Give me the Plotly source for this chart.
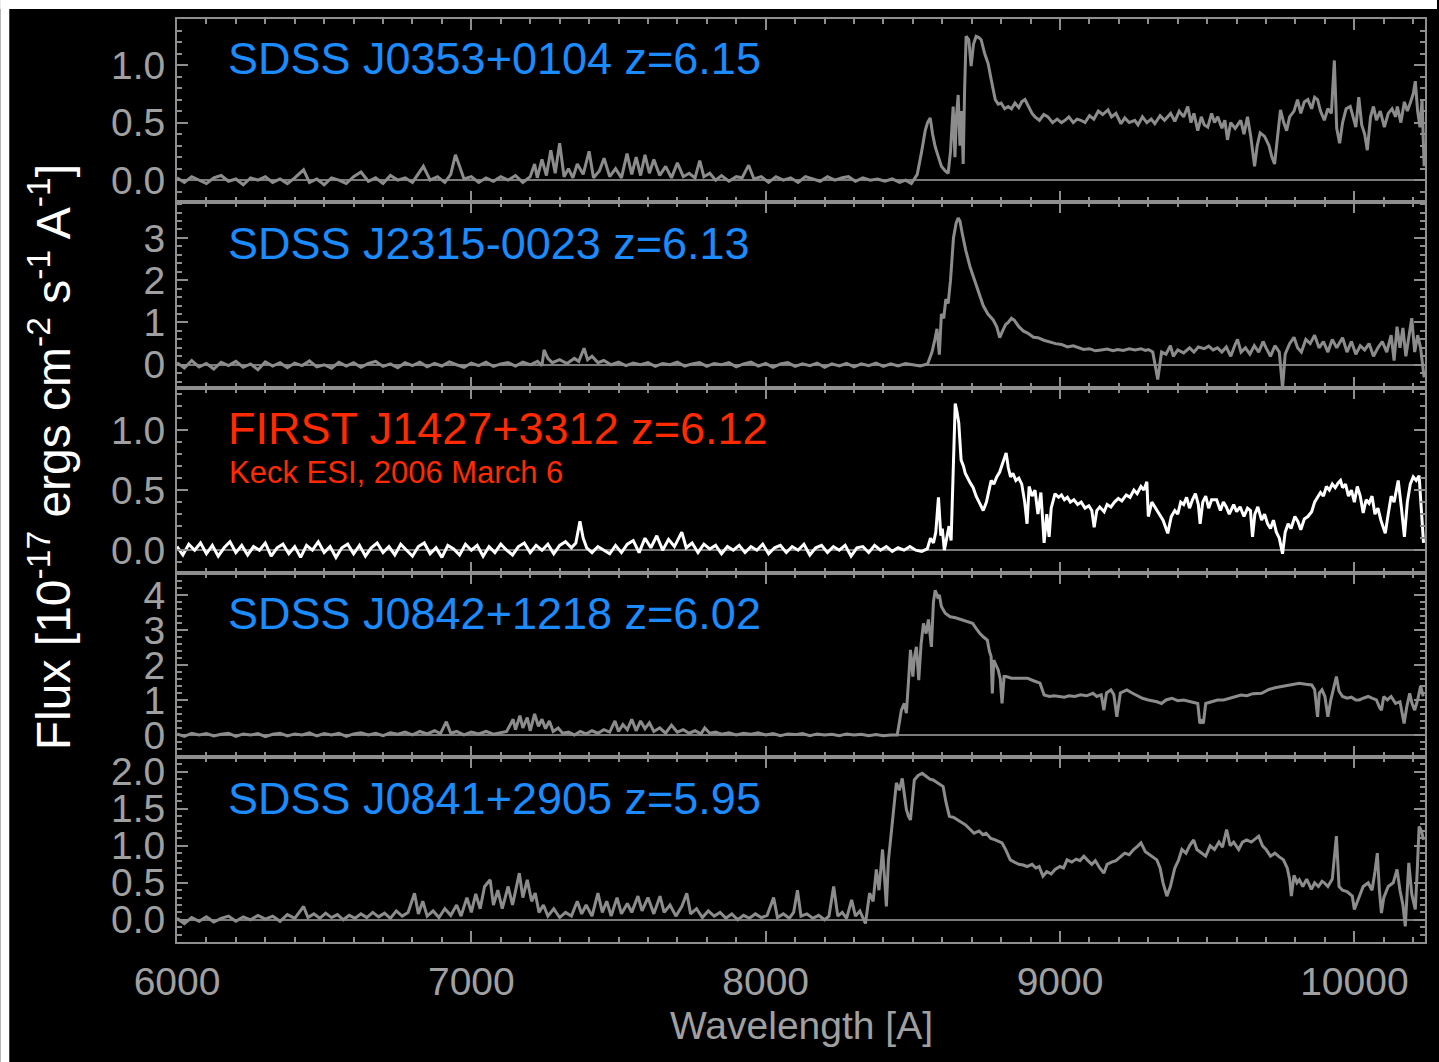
import plotly.graph_objects as go

# ---------------- data (wavelength [A], flux [1e-17 erg/cm2/s/A]) ----------------
names = ["SDSS J0353+0104 z=6.15", "SDSS J2315-0023 z=6.13", "FIRST J1427+3312 z=6.12",
         "SDSS J0842+1218 z=6.02", "SDSS J0841+2905 z=5.95"]
subtitle = "Keck ESI, 2006 March 6"
x_ticks = [6000, 7000, 8000, 9000, 10000]
y_ticks = [[0.0, 0.5, 1.0], [0, 1, 2, 3], [0.0, 0.5, 1.0], [0, 1, 2, 3, 4], [0.0, 0.5, 1.0, 1.5, 2.0]]

j0353 = [(6000,0.02),(6025,-0.02),(6050,0.03),(6075,0.00),(6100,-0.03),(6125,0.02),(6150,0.04),(6175,-0.01),
(6200,0.01),(6225,-0.04),(6250,0.02),(6275,0.00),(6300,0.03),(6325,-0.02),(6350,0.01),(6375,-0.03),(6400,0.02),
(6430,0.09),(6450,-0.02),(6475,0.01),(6500,-0.04),(6525,0.02),(6550,0.00),(6575,-0.03),(6600,0.03),(6625,0.07),
(6650,-0.01),(6675,0.02),(6700,-0.03),(6725,0.04),(6750,0.00),(6775,0.02),(6800,-0.02),(6837,0.12),(6860,0.00),
(6885,0.03),(6910,-0.02),(6930,0.05),(6946,0.22),(6960,0.12),(6975,0.01),(7000,0.03),(7025,-0.02),(7050,0.02),
(7075,-0.01),(7100,0.03),(7125,0.00),(7150,0.04),(7175,-0.02),(7200,0.03),(7215,0.14),(7224,0.02),(7240,0.18),
(7255,0.04),(7270,0.26),(7285,0.06),(7300,0.32),(7315,0.03),(7330,0.10),(7345,0.02),(7360,0.14),(7380,0.05),
(7400,0.25),(7415,0.02),(7435,0.08),(7451,0.19),(7470,0.03),(7490,0.10),(7510,0.02),(7529,0.23),(7545,0.05),
(7560,0.20),(7575,0.04),(7590,0.22),(7605,0.06),(7620,0.18),(7640,0.04),(7660,0.12),(7680,0.02),(7700,0.15),
(7720,0.03),(7740,0.06),(7760,0.02),(7776,0.17),(7790,0.03),(7810,0.06),(7830,0.00),(7850,0.04),(7875,-0.01),
(7900,0.03),(7920,0.02),(7942,0.13),(7960,0.01),(7985,0.03),(8010,-0.02),(8035,0.03),(8060,0.00),(8085,0.02),
(8110,-0.02),(8135,0.03),(8160,0.01),(8185,-0.01),(8210,0.03),(8235,0.00),(8260,0.02),(8281,0.03),(8305,-0.01),
(8330,0.02),(8355,0.00),(8380,0.01),(8405,-0.01),(8430,0.01),(8455,-0.02),(8475,0.00),(8495,-0.03),(8515,0.05),
(8530,0.25),(8542,0.43),(8550,0.50),(8559,0.54),(8567,0.40),(8576,0.29),(8587,0.20),(8597,0.12),(8610,0.08),
(8620,0.06),(8628,0.25),(8637,0.64),(8643,0.20),(8648,0.55),(8654,0.74),(8660,0.30),(8666,0.60),(8671,0.14),
(8676,0.80),(8681,1.25),(8690,1.22),(8698,0.99),(8706,1.18),(8715,1.25),(8724,1.24),(8732,1.22),(8744,1.10),
(8756,1.01),(8768,0.85),(8780,0.70),(8790,0.66),(8800,0.67),(8812,0.62),(8824,0.64),(8835,0.62),(8847,0.67),
(8860,0.63),(8870,0.68),(8881,0.70),(8895,0.63),(8905,0.58),(8915,0.55),(8930,0.52),(8945,0.57),(8959,0.55),
(8975,0.50),(8990,0.53),(9005,0.50),(9017,0.52),(9030,0.55),(9045,0.50),(9058,0.53),(9071,0.52),(9085,0.50),
(9100,0.56),(9115,0.53),(9130,0.60),(9145,0.57),(9163,0.61),(9175,0.55),(9190,0.58),(9207,0.49),(9220,0.54),
(9235,0.50),(9254,0.52),(9265,0.48),(9280,0.55),(9295,0.50),(9310,0.53),(9322,0.49),(9340,0.56),(9355,0.52),
(9376,0.58),(9390,0.51),(9405,0.60),(9420,0.55),(9434,0.64),(9445,0.50),(9455,0.58),(9468,0.43),(9480,0.55),
(9490,0.48),(9502,0.46),(9515,0.58),(9525,0.50),(9536,0.55),(9550,0.45),(9560,0.52),(9569,0.35),(9580,0.50),
(9595,0.45),(9614,0.52),(9625,0.40),(9637,0.55),(9648,0.38),(9661,0.12),(9670,0.30),(9680,0.41),(9695,0.38),
(9710,0.30),(9720,0.20),(9729,0.14),(9738,0.35),(9749,0.61),(9760,0.50),(9770,0.43),(9780,0.55),(9795,0.60),
(9807,0.70),(9818,0.58),(9830,0.68),(9842,0.70),(9855,0.62),(9865,0.72),(9875,0.70),(9885,0.60),(9898,0.52),
(9910,0.62),(9922,0.58),(9932,1.04),(9940,0.45),(9950,0.32),(9960,0.50),(9972,0.62),(9986,0.64),(9995,0.55),
(10005,0.46),(10015,0.72),(10025,0.48),(10035,0.40),(10044,0.26),(10055,0.55),(10065,0.64),(10075,0.52),
(10088,0.60),(10102,0.46),(10115,0.58),(10128,0.62),(10140,0.55),(10146,0.64),(10158,0.50),(10170,0.68),
(10180,0.60),(10190,0.67),(10200,0.75),(10207,0.86),(10215,0.60),(10223,0.46),(10230,0.70),(10237,0.12)]

j2315 = [(6000,0.05),(6025,-0.08),(6050,0.10),(6075,-0.05),(6100,0.03),(6125,-0.10),(6150,0.06),(6175,-0.02),
(6200,0.08),(6225,-0.06),(6250,0.02),(6275,-0.12),(6300,0.07),(6325,-0.03),(6350,0.05),(6375,-0.07),(6400,0.04),
(6425,-0.02),(6450,0.09),(6475,-0.05),(6500,0.00),(6525,-0.08),(6550,0.06),(6575,-0.03),(6600,0.05),(6625,-0.06),
(6650,0.03),(6675,0.08),(6700,-0.04),(6725,0.02),(6750,-0.07),(6775,0.05),(6800,-0.02),(6825,0.06),(6850,-0.05),
(6875,0.03),(6900,-0.03),(6925,0.07),(6950,0.00),(6975,-0.06),(7000,0.04),(7025,-0.02),(7050,0.06),(7075,-0.04),
(7100,0.02),(7125,0.05),(7150,-0.03),(7175,0.06),(7200,0.00),(7225,0.08),(7240,-0.02),(7247,0.35),(7260,0.15),
(7275,0.05),(7300,0.12),(7325,0.03),(7350,0.15),(7365,0.08),(7383,0.39),(7395,0.12),(7410,0.20),(7430,0.05),
(7450,0.10),(7475,0.00),(7500,0.06),(7525,-0.02),(7550,0.04),(7575,0.00),(7600,0.05),(7625,-0.04),(7650,0.03),
(7675,0.00),(7700,0.06),(7725,-0.03),(7750,0.02),(7775,0.05),(7800,-0.04),(7825,0.03),(7850,0.00),(7875,0.05),
(7900,-0.05),(7925,0.02),(7950,0.06),(7975,-0.03),(8000,0.03),(8025,-0.06),(8050,0.02),(8075,0.05),(8100,-0.04),
(8125,0.02),(8150,-0.02),(8175,0.04),(8200,-0.06),(8225,0.02),(8250,-0.03),(8275,0.03),(8300,-0.05),(8325,0.02),
(8350,-0.02),(8375,0.04),(8400,-0.04),(8425,0.02),(8450,-0.03),(8475,0.03),(8500,0.00),(8525,-0.03),(8550,0.02),
(8565,0.30),(8575,0.60),(8582,0.85),(8590,0.24),(8597,1.20),(8605,1.10),(8612,1.55),(8620,1.45),(8628,2.00),
(8638,3.00),(8647,3.35),(8654,3.47),(8660,3.40),(8668,3.10),(8680,2.70),(8695,2.30),(8710,2.00),(8725,1.65),
(8739,1.40),(8755,1.20),(8773,1.06),(8785,0.90),(8795,0.64),(8805,0.80),(8815,0.95),(8824,1.00),(8835,1.10),
(8845,1.05),(8860,0.90),(8875,0.80),(8890,0.75),(8910,0.65),(8925,0.64),(8945,0.58),(8965,0.54),(8985,0.50),
(9005,0.48),(9025,0.42),(9045,0.45),(9061,0.40),(9080,0.36),(9100,0.38),(9120,0.33),(9140,0.35),(9160,0.37),
(9180,0.33),(9196,0.36),(9215,0.34),(9235,0.38),(9255,0.35),(9275,0.38),(9290,0.34),(9300,0.36),(9315,0.30),
(9332,-0.35),(9345,0.30),(9360,0.25),(9375,0.45),(9385,0.20),(9400,0.35),(9420,0.28),(9440,0.40),(9455,0.30),
(9470,0.42),(9490,0.38),(9505,0.44),(9520,0.35),(9535,0.40),(9550,0.30),(9565,0.42),(9580,0.20),(9595,0.48),
(9603,0.60),(9615,0.30),(9630,0.40),(9645,0.25),(9660,0.45),(9675,0.30),(9690,0.55),(9700,0.40),(9715,0.20),
(9730,0.45),(9745,0.30),(9756,-0.55),(9765,0.25),(9780,0.50),(9795,0.65),(9807,0.40),(9820,0.30),(9835,0.60),
(9850,0.50),(9865,0.70),(9880,0.40),(9895,0.55),(9910,0.30),(9925,0.60),(9940,0.40),(9960,0.64),(9975,0.30),
(9990,0.55),(10005,0.25),(10020,0.45),(10035,0.35),(10050,0.50),(10065,0.20),(10080,0.40),(10095,0.55),
(10110,0.30),(10125,0.70),(10135,0.10),(10145,0.90),(10155,0.40),(10165,0.87),(10175,0.20),(10185,0.60),
(10195,1.10),(10205,0.30),(10215,0.70),(10225,0.40),(10237,-0.30)]

j1427 = [(6000,0.03),(6020,-0.04),(6040,0.05),(6060,0.00),(6080,0.06),(6100,-0.03),(6120,0.04),(6140,-0.05),
(6160,0.02),(6180,0.07),(6200,-0.02),(6220,0.04),(6240,-0.04),(6260,0.03),(6280,0.00),(6300,0.06),(6320,-0.05),
(6340,0.02),(6360,0.05),(6380,-0.03),(6400,0.03),(6420,-0.06),(6440,0.04),(6460,0.00),(6480,0.07),(6500,-0.02),
(6520,0.03),(6540,-0.06),(6560,0.02),(6580,0.05),(6600,-0.03),(6620,0.04),(6640,-0.05),(6660,0.02),(6680,0.06),
(6700,-0.02),(6720,0.03),(6740,-0.04),(6760,0.05),(6780,0.00),(6800,-0.05),(6820,0.03),(6840,0.06),(6860,-0.03),
(6880,0.02),(6900,-0.06),(6920,0.04),(6940,0.01),(6960,-0.04),(6980,0.05),(7000,0.00),(7020,0.04),(7040,-0.05),
(7060,0.03),(7080,-0.02),(7100,0.05),(7120,0.00),(7140,-0.04),(7160,0.03),(7180,0.06),(7200,-0.02),(7220,0.04),
(7240,0.00),(7260,0.05),(7280,-0.03),(7300,0.04),(7320,0.07),(7340,0.02),(7355,0.06),(7369,0.24),(7380,0.10),
(7392,0.02),(7410,-0.02),(7430,0.03),(7450,0.00),(7470,-0.03),(7490,0.04),(7510,-0.02),(7530,0.05),(7550,0.08),
(7570,-0.02),(7590,0.10),(7610,0.02),(7630,0.12),(7650,0.00),(7670,0.09),(7690,0.03),(7715,0.15),(7730,0.02),
(7750,0.06),(7770,-0.02),(7790,0.05),(7810,0.01),(7830,0.04),(7850,-0.03),(7870,0.03),(7890,0.00),(7910,0.04),
(7930,-0.02),(7950,0.03),(7970,0.00),(7990,0.05),(8010,-0.03),(8030,0.02),(8050,0.04),(8070,-0.02),(8090,0.03),
(8110,0.00),(8130,0.05),(8150,-0.04),(8170,0.02),(8190,0.04),(8210,-0.02),(8230,0.03),(8250,0.00),(8270,0.04),
(8290,-0.05),(8310,0.02),(8330,0.03),(8350,-0.02),(8370,0.04),(8390,0.00),(8410,0.03),(8430,-0.01),(8450,0.02),
(8470,0.00),(8490,0.03),(8510,0.00),(8530,-0.01),(8549,0.01),(8560,0.10),(8570,0.06),(8578,0.15),(8587,0.44),
(8595,0.12),(8600,0.18),(8607,0.00),(8615,0.10),(8623,0.20),(8630,0.08),(8637,0.60),(8644,1.22),(8650,1.15),
(8656,1.06),(8664,0.75),(8672,0.70),(8678,0.64),(8686,0.60),(8695,0.56),(8705,0.52),(8715,0.45),(8725,0.40),
(8739,0.33),(8750,0.40),(8758,0.50),(8766,0.58),(8775,0.55),(8785,0.61),(8795,0.65),(8805,0.72),(8817,0.81),
(8824,0.69),(8832,0.61),(8840,0.64),(8850,0.58),(8860,0.60),(8870,0.55),(8880,0.40),(8888,0.22),(8895,0.53),
(8905,0.45),(8915,0.50),(8925,0.30),(8935,0.48),(8946,0.06),(8955,0.30),(8963,0.11),(8970,0.35),(8983,0.47),
(8995,0.44),(9005,0.46),(9015,0.42),(9025,0.44),(9035,0.40),(9047,0.42),(9060,0.38),(9072,0.40),(9085,0.35),
(9098,0.37),(9108,0.33),(9116,0.19),(9125,0.33),(9135,0.36),(9150,0.32),(9160,0.38),(9173,0.36),(9185,0.40),
(9198,0.43),(9210,0.41),(9225,0.46),(9238,0.44),(9251,0.50),(9262,0.47),(9275,0.53),(9285,0.50),(9295,0.57),
(9300,0.28),(9312,0.40),(9325,0.35),(9338,0.30),(9350,0.25),(9366,0.14),(9378,0.28),(9390,0.33),(9400,0.30),
(9410,0.40),(9420,0.38),(9430,0.44),(9440,0.35),(9450,0.42),(9460,0.47),(9470,0.38),(9476,0.22),(9485,0.40),
(9495,0.45),(9505,0.35),(9515,0.42),(9532,0.42),(9545,0.33),(9555,0.40),(9565,0.36),(9575,0.30),(9590,0.38),
(9600,0.32),(9612,0.36),(9625,0.28),(9637,0.35),(9647,0.33),(9654,0.11),(9662,0.30),(9672,0.36),(9685,0.25),
(9695,0.30),(9705,0.22),(9715,0.18),(9725,0.25),(9735,0.15),(9745,0.10),(9756,-0.03),(9765,0.15),(9775,0.22),
(9785,0.18),(9798,0.28),(9808,0.24),(9818,0.17),(9830,0.26),(9842,0.28),(9855,0.32),(9865,0.40),(9875,0.44),
(9885,0.48),(9895,0.45),(9905,0.53),(9915,0.50),(9925,0.55),(9935,0.52),(9945,0.56),(9953,0.58),(9960,0.52),
(9970,0.55),(9980,0.45),(9990,0.50),(10000,0.40),(10010,0.53),(10020,0.45),(10030,0.31),(10040,0.42),
(10050,0.39),(10060,0.45),(10070,0.30),(10080,0.35),(10090,0.25),(10105,0.14),(10115,0.30),(10125,0.45),
(10135,0.40),(10149,0.58),(10160,0.35),(10170,0.11),(10180,0.40),(10190,0.55),(10200,0.61),(10210,0.58),
(10220,0.62),(10228,0.30),(10235,0.06)]

j0842 = [(6000,0.03),(6025,-0.04),(6050,0.05),(6075,0.00),(6100,0.04),(6125,-0.03),(6150,0.02),(6175,0.05),
(6200,-0.04),(6225,0.03),(6250,0.00),(6275,0.04),(6300,-0.05),(6325,0.02),(6350,0.05),(6375,-0.03),(6400,0.03),
(6425,0.00),(6450,0.06),(6475,-0.03),(6500,0.04),(6525,0.00),(6550,0.05),(6575,-0.04),(6600,0.03),(6625,0.06),
(6650,0.00),(6675,0.05),(6700,-0.02),(6725,0.06),(6750,0.02),(6775,0.08),(6800,0.00),(6825,0.10),(6850,0.03),
(6875,0.12),(6895,0.04),(6915,0.38),(6930,0.05),(6950,0.10),(6975,0.00),(7000,0.08),(7025,0.03),(7050,0.10),
(7075,0.02),(7100,0.06),(7120,0.10),(7142,0.45),(7150,0.15),(7165,0.55),(7175,0.20),(7190,0.50),(7200,0.12),
(7215,0.60),(7228,0.25),(7240,0.45),(7252,0.18),(7265,0.40),(7278,0.10),(7295,0.20),(7310,0.05),(7330,0.08),
(7350,0.00),(7370,0.10),(7390,0.03),(7410,0.12),(7430,0.05),(7450,0.15),(7470,0.08),(7488,0.40),(7500,0.10),
(7515,0.30),(7530,0.15),(7545,0.45),(7560,0.12),(7575,0.40),(7590,0.18),(7605,0.35),(7620,0.10),(7640,0.20),
(7660,0.05),(7680,0.28),(7700,0.08),(7720,0.15),(7740,0.05),(7760,0.12),(7780,0.03),(7793,0.20),(7810,0.05),
(7830,0.08),(7850,0.02),(7875,0.06),(7900,0.00),(7925,0.05),(7950,0.02),(7975,0.06),(8000,0.00),(8025,0.04),
(8050,-0.02),(8075,0.03),(8100,0.01),(8125,0.04),(8150,-0.02),(8175,0.03),(8200,0.00),(8225,0.02),(8250,-0.02),
(8275,0.03),(8300,0.00),(8325,0.02),(8350,-0.02),(8375,0.01),(8400,-0.02),(8425,0.00),(8447,0.00),(8455,0.40),
(8461,0.71),(8471,0.90),(8478,0.62),(8485,1.50),(8492,2.43),(8500,1.67),(8505,2.20),(8512,2.52),(8520,1.57),
(8528,2.60),(8536,3.19),(8545,2.90),(8553,3.30),(8563,2.52),(8570,3.80),(8576,4.14),(8584,3.95),(8590,4.00),
(8597,3.67),(8610,3.48),(8627,3.38),(8645,3.35),(8664,3.29),(8683,3.25),(8703,3.19),(8715,3.05),(8728,2.90),
(8740,2.80),(8753,2.71),(8760,2.40),(8766,2.24),(8770,1.19),(8775,2.14),(8785,1.95),(8790,1.86),(8797,1.60),
(8803,0.90),(8810,1.67),(8817,1.67),(8835,1.62),(8854,1.62),(8870,1.60),(8890,1.62),(8910,1.55),(8932,1.48),
(8946,1.14),(8965,1.10),(8980,1.12),(8997,1.10),(9015,1.08),(9030,1.12),(9050,1.10),(9070,1.15),(9090,1.12),
(9112,1.19),(9125,1.10),(9140,1.15),(9149,0.71),(9158,1.20),(9173,1.29),(9183,1.15),(9193,0.52),(9205,1.20),
(9227,1.29),(9245,1.20),(9260,1.14),(9280,1.05),(9300,1.00),(9315,0.98),(9329,0.95),(9345,0.90),(9360,1.00),
(9380,1.05),(9400,0.98),(9420,1.00),(9440,0.95),(9455,0.92),(9468,0.90),(9475,0.33),(9481,0.40),(9487,0.33),
(9495,0.90),(9515,0.95),(9535,1.00),(9556,1.00),(9575,1.05),(9595,1.10),(9615,1.14),(9635,1.12),(9655,1.18),
(9685,1.19),(9710,1.30),(9730,1.35),(9749,1.38),(9770,1.42),(9790,1.45),(9813,1.48),(9835,1.45),(9855,1.43),
(9865,1.30),(9875,0.52),(9881,1.20),(9890,1.29),(9900,1.10),(9910,0.52),(9920,1.00),(9930,1.40),(9939,1.67),
(9948,1.25),(9960,1.10),(9975,1.05),(9990,1.08),(10005,1.00),(10017,1.00),(10030,1.05),(10047,1.10),
(10060,1.05),(10075,1.00),(10085,0.80),(10092,0.71),(10100,1.10),(10112,1.00),(10125,1.10),(10140,0.90),
(10155,0.95),(10163,0.60),(10169,0.33),(10178,0.80),(10188,1.19),(10196,0.90),(10205,0.71),(10215,1.00),
(10225,1.40),(10234,1.10)]

j0841 = [(6000,0.02),(6025,-0.05),(6050,0.03),(6075,-0.02),(6100,0.04),(6125,-0.03),(6150,0.02),(6175,0.05),
(6200,-0.02),(6225,0.04),(6250,0.00),(6275,0.06),(6300,0.01),(6325,0.05),(6350,-0.02),(6375,0.07),(6400,0.02),
(6430,0.18),(6445,0.03),(6465,0.08),(6485,0.02),(6505,0.09),(6525,0.03),(6545,0.07),(6565,0.00),(6585,0.06),
(6605,0.02),(6625,0.08),(6645,0.03),(6665,0.10),(6685,0.04),(6705,0.09),(6725,0.02),(6745,0.12),(6765,0.05),
(6785,0.10),(6807,0.36),(6820,0.08),(6835,0.25),(6850,0.05),(6870,0.12),(6890,0.03),(6910,0.15),(6930,0.06),
(6950,0.20),(6965,0.05),(6985,0.30),(7000,0.10),(7015,0.35),(7030,0.15),(7045,0.45),(7064,0.54),(7075,0.20),
(7090,0.40),(7105,0.15),(7125,0.45),(7140,0.20),(7155,0.50),(7163,0.63),(7175,0.30),(7190,0.54),(7205,0.25),
(7217,0.36),(7230,0.10),(7245,0.20),(7260,0.05),(7280,0.15),(7300,0.03),(7320,0.10),(7340,0.05),(7360,0.25),
(7375,0.08),(7390,0.20),(7410,0.05),(7430,0.36),(7445,0.10),(7460,0.25),(7475,0.05),(7495,0.30),(7510,0.08),
(7530,0.22),(7545,0.10),(7566,0.32),(7580,0.12),(7600,0.30),(7620,0.08),(7641,0.32),(7655,0.10),(7675,0.20),
(7695,0.05),(7715,0.18),(7732,0.36),(7745,0.08),(7765,0.15),(7785,0.03),(7805,0.12),(7825,0.05),(7845,0.10),
(7865,0.02),(7885,0.08),(7905,0.00),(7925,0.06),(7945,0.02),(7965,0.08),(7985,0.03),(8005,0.06),(8027,0.30),
(8040,0.03),(8060,0.08),(8080,0.02),(8095,0.10),(8108,0.40),(8120,0.05),(8140,0.08),(8160,0.02),(8180,0.06),
(8200,0.00),(8215,0.05),(8231,0.45),(8245,0.05),(8260,0.10),(8275,0.02),(8292,0.27),(8305,0.05),(8320,0.12),
(8339,-0.05),(8353,0.36),(8365,0.25),(8376,0.68),(8385,0.40),(8397,0.95),(8405,0.50),(8410,0.18),(8417,0.80),
(8424,1.08),(8434,1.50),(8444,1.85),(8454,1.75),(8464,1.91),(8471,1.70),(8478,1.49),(8485,1.40),(8492,1.35),
(8498,1.60),(8505,1.89),(8518,1.95),(8532,1.98),(8545,1.94),(8558,1.90),(8569,1.89),(8585,1.85),(8603,1.80),
(8612,1.60),(8624,1.40),(8640,1.38),(8652,1.35),(8664,1.31),(8680,1.28),(8695,1.22),(8708,1.17),(8725,1.20),
(8738,1.15),(8749,1.17),(8765,1.10),(8780,1.08),(8803,1.04),(8815,0.95),(8831,0.81),(8845,0.78),(8860,0.75),
(8875,0.74),(8888,0.72),(8905,0.75),(8918,0.70),(8929,0.72),(8942,0.59),(8955,0.65),(8970,0.62),(8983,0.68),
(9000,0.72),(9012,0.70),(9024,0.81),(9040,0.78),(9055,0.82),(9068,0.80),(9081,0.86),(9095,0.80),(9108,0.75),
(9120,0.80),(9135,0.70),(9149,0.63),(9160,0.75),(9175,0.78),(9190,0.80),(9205,0.85),(9220,0.90),(9235,0.88),
(9250,0.95),(9265,1.00),(9275,1.04),(9290,0.92),(9305,0.88),(9318,0.85),(9329,0.81),(9340,0.70),(9350,0.50),
(9363,0.32),(9375,0.45),(9390,0.70),(9402,0.80),(9414,0.95),(9428,0.90),(9440,1.00),(9454,1.08),(9465,0.95),
(9480,0.90),(9495,0.86),(9510,1.00),(9525,0.95),(9540,1.05),(9552,0.98),(9566,1.22),(9578,1.00),(9590,1.05),
(9607,0.95),(9620,1.05),(9634,1.08),(9650,1.05),(9665,1.10),(9675,1.13),(9688,1.00),(9700,0.95),(9715,0.86),
(9730,0.90),(9745,0.85),(9759,0.81),(9772,0.70),(9780,0.55),(9786,0.32),(9795,0.60),(9805,0.50),(9813,0.54),
(9825,0.45),(9838,0.55),(9854,0.41),(9865,0.50),(9878,0.45),(9890,0.52),(9898,0.50),(9910,0.45),(9925,0.55),
(9939,1.13),(9948,0.45),(9960,0.40),(9975,0.38),(9993,0.32),(10000,0.14),(10015,0.30),(10030,0.45),
(10047,0.50),(10060,0.40),(10070,0.65),(10078,0.90),(10085,0.40),(10092,0.09),(10100,0.30),(10115,0.45),
(10132,0.50),(10145,0.68),(10155,0.40),(10165,0.20),(10173,-0.09),(10185,0.77),(10195,0.35),(10207,0.14),
(10214,0.70),(10220,1.26),(10228,1.20),(10235,1.08)]

spectra = [j0353, j2315, j1427, j0842, j0841]
y_ranges = [[-0.19, 1.40], [-0.55, 3.85], [-0.19, 1.35], [-0.63, 4.63], [-0.30, 2.20]]
y_minor = [0.1, 0.2, 0.1, 0.2, 0.1]
line_colors = ["#8c8c8c", "#8c8c8c", "#ffffff", "#8c8c8c", "#8c8c8c"]
label_colors = ["#1a8cff", "#1a8cff", "#ff2a00", "#1a8cff", "#1a8cff"]

# ---------------- figure ----------------
W, H = 1439, 1062
L, R, T, B = 177, 12, 19, 120
pw, ph = W - L - R, H - T - B
AX = "#8e8e8e"
TICKC = "#a0a0a0"
FONT = "Liberation Sans, Helvetica, Arial, sans-serif"

bounds_px = [19, 202, 388, 573, 757, 942]
def py2paper(py):
    return (H - B - py) / ph
def px2paper(px):
    return (px - L) / pw

fig = go.Figure()
layout = dict(
    width=W, height=H,
    margin=dict(l=L, r=R, t=T, b=B),
    paper_bgcolor="black", plot_bgcolor="black",
    showlegend=False,
    font=dict(family=FONT, color=TICKC, size=39),
)

for i, spec in enumerate(spectra):
    k = i + 1
    wl = [p[0] for p in spec]
    fx = [p[1] for p in spec]
    xa = "x" if k == 1 else f"x{k}"
    ya = "y" if k == 1 else f"y{k}"
    fig.add_trace(go.Scatter(x=wl, y=fx, mode="lines", xaxis=xa, yaxis=ya,
                             line=dict(color=line_colors[i], width=3), hoverinfo="skip"))
    dom = [py2paper(bounds_px[i + 1]), py2paper(bounds_px[i])]
    xkey = "xaxis" if k == 1 else f"xaxis{k}"
    ykey = "yaxis" if k == 1 else f"yaxis{k}"
    layout[xkey] = dict(
        range=[6000, 10240], domain=[0, 1], anchor=ya,
        matches=None if k == 1 else "x",
        showline=True, linecolor=AX, linewidth=2, mirror="allticks",
        ticks="inside", ticklen=11, tickwidth=2, tickcolor=AX,
        tickvals=x_ticks, ticktext=[str(v) for v in x_ticks],
        minor=dict(ticks="inside", ticklen=5, tickwidth=1.5, tickcolor=AX, dtick=100, tick0=6000),
        showgrid=False, zeroline=False,
        showticklabels=(k == 5),
        tickfont=dict(size=39, color=TICKC, family=FONT),
        ticklabelstandoff=4,
    )
    fmt = ".1f" if i in (0, 2, 4) else "d"
    layout[ykey] = dict(
        range=y_ranges[i], domain=dom, anchor=xa,
        showline=True, linecolor=AX, linewidth=2, mirror="allticks",
        ticks="inside", ticklen=11, tickwidth=2, tickcolor=AX,
        tickvals=y_ticks[i], ticktext=[format(v, fmt) if fmt == ".1f" else str(int(v)) for v in y_ticks[i]],
        minor=dict(ticks="inside", ticklen=5, tickwidth=1.5, tickcolor=AX, dtick=y_minor[i], tick0=0),
        showgrid=False,
        zeroline=True, zerolinecolor="#7a7a7a", zerolinewidth=2,
        tickfont=dict(size=39, color=TICKC, family=FONT),
        ticklabelstandoff=2,
    )

label_y_px = [58, 243, 428, 613, 798]
annotations = []
for i, name in enumerate(names):
    annotations.append(dict(text=name, xref="paper", yref="paper", x=px2paper(226),
                            y=py2paper(label_y_px[i]), xanchor="left", yanchor="middle",
                            showarrow=False, font=dict(size=45, color=label_colors[i], family=FONT)))
annotations.append(dict(text=subtitle, xref="paper", yref="paper", x=px2paper(227),
                        y=py2paper(472), xanchor="left", yanchor="middle", showarrow=False,
                        font=dict(size=31, color=label_colors[2], family=FONT)))
annotations.append(dict(text="Flux [10<sup>-17</sup> ergs cm<sup>-2</sup> s<sup>-1</sup> A<sup>-1</sup>]",
                        xref="paper", yref="paper", x=px2paper(50), y=py2paper(457),
                        xanchor="center", yanchor="middle", textangle=-90, showarrow=False,
                        font=dict(size=48, color="white", family=FONT)))
annotations.append(dict(text="Wavelength [A]", xref="paper", yref="paper", x=px2paper(802),
                        y=py2paper(1025), xanchor="center", yanchor="middle", showarrow=False,
                        font=dict(size=39, color=TICKC, family=FONT)))
layout["annotations"] = annotations

# white strips at the top and left edge of the picture
layout["shapes"] = [
    dict(type="rect", xref="paper", yref="paper", x0=px2paper(0), x1=px2paper(W), y0=py2paper(9), y1=py2paper(0),
         fillcolor="white", line=dict(width=0), layer="above"),
    dict(type="rect", xref="paper", yref="paper", x0=px2paper(0), x1=px2paper(9), y0=py2paper(H), y1=py2paper(0),
         fillcolor="white", line=dict(width=0), layer="above"),
]

fig.update_layout(**layout)
fig.write_html("out.html")
